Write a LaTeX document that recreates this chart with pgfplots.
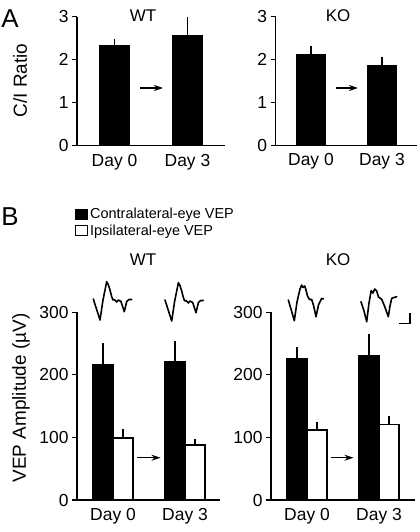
\documentclass[border=0pt]{standalone}
\usepackage{fontspec}
\setmainfont{Liberation Sans}
\usepackage{pgfplots}
\pgfplotsset{compat=1.18}
\usetikzlibrary{arrows.meta}

\tikzset{arr/.style={-{Stealth[length=9bp,width=6bp]}, line width=1.3bp, black}}
\pgfplotsset{
  panel/.style={
    scale only axis, anchor=south west,
    axis lines=left, axis line style={line width=1.2bp, -},
    ymin=0, xtick={0,1}, xticklabels={Day 0, Day 3},
    x tick style={draw=none},
    y tick style={line width=1.2bp, black},
    tick align=outside, major tick length=5bp,
    tick label style={font=\fontsize{17.5}{17.5}\selectfont},
    /pgf/number format/assume math mode=true,
    ybar, clip=false,
    error bars/y dir=plus, error bars/y explicit, error bars/error mark=none,
    error bars/error bar style={line width=1.3bp, black},
  },
  wave/.style={black, line width=1.6bp, mark=none, line join=round, line cap=round},
}

\begin{document}
\begin{tikzpicture}
\useasboundingbox (0,0) rectangle (420bp,532bp);

% ---------- Panel A, WT ----------
\begin{axis}[panel, at={(77bp,386.5bp)}, width=148bp, height=128.8bp,
  xmin=-0.514, xmax=1.514, ymax=3, ytick={0,1,2,3}]
\addplot[fill=black, draw=black, line width=1.2bp, bar width=29bp, bar shift=0bp]
  coordinates {(0,2.32) +- (0,0.17) (1,2.55) +- (0,0.45)};
\end{axis}

% ---------- Panel A, KO ----------
\begin{axis}[panel, at={(275.7bp,386.7bp)}, width=141bp, height=128.6bp,
  xmin=-0.497, xmax=1.489, ymax=3, ytick={0,1,2,3}]
\addplot[fill=black, draw=black, line width=1.2bp, bar width=28bp, bar shift=0bp]
  coordinates {(0,2.12) +- (0,0.19) (1,1.87) +- (0,0.20)};
\end{axis}

% ---------- Panel B, WT ----------
\begin{axis}[panel, at={(77bp,32bp)}, width=143bp, height=187.7bp,
  xmin=-0.5, xmax=1.486, ymax=300, ytick={0,100,200,300},
  legend style={at={(axis description cs:-0.014,1.566)}, anchor=north west,
    draw=none, fill=none, inner sep=0pt, row sep=0.5bp,
    font=\fontsize{14.5}{14.5}\selectfont, cells={anchor=west}},
  legend image code/.code={\draw[#1, line width=1bp] (0bp,-5bp) rectangle (12bp,5bp);}]
\addplot[fill=black, draw=black, line width=1.2bp, bar width=20bp, bar shift=-10bp]
  coordinates {(0,217) +- (0,34) (1,221) +- (0,33)};
\addlegendentry{Contralateral-eye VEP}
\addplot[fill=white, draw=black, line width=1.2bp, bar width=20bp, bar shift=10bp]
  coordinates {(0,99) +- (0,14) (1,88) +- (0,9)};
\addlegendentry{Ipsilateral-eye VEP}
\end{axis}

% ---------- Panel B, KO ----------
\begin{axis}[panel, at={(271bp,32bp)}, width=144bp, height=187.7bp,
  xmin=-0.5, xmax=1.5, ymax=300, ytick={0,100,200,300}]
\addplot[fill=black, draw=black, line width=1.2bp, bar width=20bp, bar shift=-10bp]
  coordinates {(0,226) +- (0,18) (1,230) +- (0,35)};
\addplot[fill=white, draw=black, line width=1.2bp, bar width=20bp, bar shift=10bp]
  coordinates {(0,112) +- (0,12) (1,121) +- (0,13)};
\end{axis}

% ---------- overlay in pixel coordinates ----------
\begin{axis}[at={(0,0)}, anchor=south west, scale only axis, width=420bp, height=532bp,
  xmin=0, xmax=420, ymin=0, ymax=532, y dir=reverse, hide axis, clip=false]
% VEP traces
\addplot[wave] coordinates {
 (93.3,299) (96.5,309) (100,320) (103,300) (106.7,281.7) (108.3,284.7) (110,290) (111.7,296.7)
 (113,300) (114.3,299.5) (116.7,302) (118.3,300) (121,301.5) (124.3,311.7) (126.7,301.5) (129,299.5) (131.7,299.5)};
\addplot[wave] coordinates {
 (165,300) (168.2,310) (171.7,321) (174.7,301) (178.4,282.7) (180,285.7) (181.7,291) (183.4,297.7)
 (184.7,301) (186,300.5) (188.4,303) (190,301) (192.7,302.5) (196,312.7) (198.4,302.5) (200.7,300.5) (203.4,300.5)};
\addplot[wave] coordinates {
 (288.3,300) (291.3,310) (294.3,320.7) (297,302) (300,289) (301.7,285) (303,287.5) (304.7,286) (306,290)
 (307.5,296) (309.5,299.5) (311.7,299.5) (313.7,306) (316,316.7) (318.5,305) (321.7,298.3) (323.5,299)};
\addplot[wave] coordinates {
 (361,301.7) (364,311) (366.7,321.7) (369,303) (371.2,290.7) (373,293) (374.7,289) (376.7,291)
 (378.5,297) (381.7,299.3) (384.5,306) (388.3,316.7) (390,306) (391.7,298.3) (394,297.5) (396.7,296.7)};
% scale bar
\addplot[black, line width=1.3bp, mark=none] coordinates {(410,313) (410,323.3) (399,323.3)};
% arrows
\draw[arr] (axis cs:140,88) -- (axis cs:163,88);
\draw[arr] (axis cs:336,88) -- (axis cs:358,88);
\draw[arr] (axis cs:137,457.7) -- (axis cs:160.5,457.7);
\draw[arr] (axis cs:331,457.7) -- (axis cs:353.5,457.7);

\node[font=\fontsize{26}{26}\selectfont] at (axis cs:10,18.5) {A};
\node[font=\fontsize{26}{26}\selectfont] at (axis cs:10,216.5) {B};
\node[font=\fontsize{17}{17}\selectfont] at (axis cs:143,15.5) {WT};
\node[font=\fontsize{17}{17}\selectfont] at (axis cs:338,15.5) {KO};
\node[font=\fontsize{17}{17}\selectfont] at (axis cs:143,260) {WT};
\node[font=\fontsize{17}{17}\selectfont] at (axis cs:338,260) {KO};
\node[font=\fontsize{19}{19}\selectfont, rotate=90] at (axis cs:20,80.5) {C/I Ratio};
\node[font=\fontsize{19}{19}\selectfont, rotate=90] at (axis cs:21,398) {VEP Amplitude (µV)};
\end{axis}
\end{tikzpicture}
\end{document}
